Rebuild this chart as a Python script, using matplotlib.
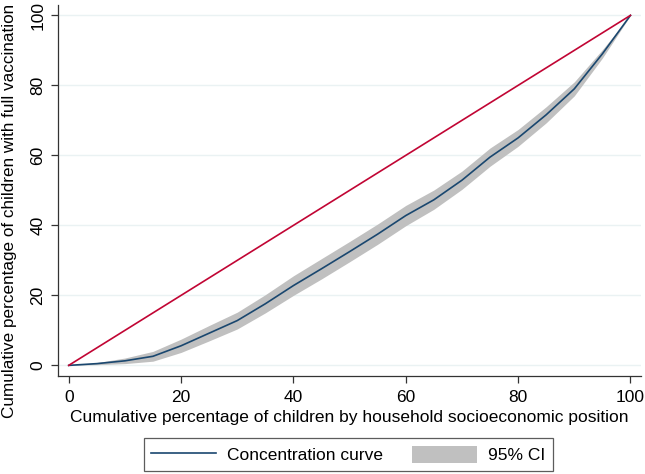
import matplotlib

matplotlib.use("Agg")

import matplotlib.pyplot as plt
from matplotlib.patches import Patch
from matplotlib.lines import Line2D

plt.rcParams["font.family"] = ["Liberation Sans", "DejaVu Sans"]

# cumulative % of children ranked by socioeconomic position
cum_pop = [0, 5, 10, 15, 20, 25, 30, 35, 40, 45, 50, 55, 60, 65, 70, 75, 80, 85, 90, 95, 100]
conc_curve = [0, 0.5, 1.3, 2.6, 5.6, 9.2, 12.8, 17.6, 22.8, 27.6, 32.5, 37.5, 42.8, 47.3, 52.9, 59.5, 65.0, 71.6, 79.0, 89.0, 100]
ci_lower = [0, 0.2, 0.5, 1.2, 3.7, 7.0, 10.4, 15.0, 20.0, 24.7, 29.6, 34.6, 39.9, 44.6, 50.3, 56.9, 62.6, 69.3, 77.0, 87.8, 100]
ci_upper = [0, 0.8, 2.1, 4.0, 7.5, 11.4, 15.2, 20.2, 25.6, 30.5, 35.4, 40.4, 45.7, 50.1, 55.5, 62.1, 67.4, 73.9, 81.0, 90.2, 100]
equality = [0, 100]

fig = plt.figure(figsize=(6.45, 4.74), dpi=100)
ax = fig.add_axes([0.09, 0.207, 0.904, 0.782])

ax.fill_between(cum_pop, ci_lower, ci_upper, color="#c0c0c0", linewidth=0, zorder=2)
ax.plot(cum_pop, conc_curve, color="#1a476f", linewidth=1.2, zorder=3)
ax.plot(equality, equality, color="#c10534", linewidth=1.2, zorder=3)

ax.set_xlim(-1.9, 101.9)
ax.set_ylim(-3.0, 102.9)
ax.set_xticks([0, 20, 40, 60, 80, 100])
ax.set_yticks([0, 20, 40, 60, 80, 100])
ax.grid(axis="y", color="#eaf2f3", linewidth=1)
ax.set_axisbelow(True)

for side in ["top", "right"]:
    ax.spines[side].set_visible(False)
for side in ["left", "bottom"]:
    ax.spines[side].set_color("#333333")
    ax.spines[side].set_linewidth(0.9)

ax.tick_params(direction="out", length=5, width=0.9, color="#333333", labelsize=12.5)
ax.tick_params(axis="x", pad=5)
ax.tick_params(axis="y", pad=4)
plt.setp(ax.get_yticklabels(), rotation=90, va="center")

ax.set_xlabel("Cumulative percentage of children by household socioeconomic position", fontsize=12.5, labelpad=4)
ax.set_ylabel("Cumulative percentage of children with full vaccination", fontsize=12.3)
ax.yaxis.set_label_coords(-0.071, 0.445)

handles = [
    Line2D([], [], color="#1a476f", linewidth=1.2),
    Patch(facecolor="#c0c0c0", edgecolor="none"),
]
leg = fig.legend(handles, ["Concentration curve", "95% CI"], loc="center", bbox_to_anchor=(0.54, 0.041),
                 ncol=2, fontsize=12.5, frameon=True, fancybox=False, edgecolor="#333333",
                 handlelength=3.7, handleheight=1.2, columnspacing=1.7, borderpad=0.45, handletextpad=0.65)
leg.get_frame().set_linewidth(0.9)

fig.savefig("out.png", dpi=100)
